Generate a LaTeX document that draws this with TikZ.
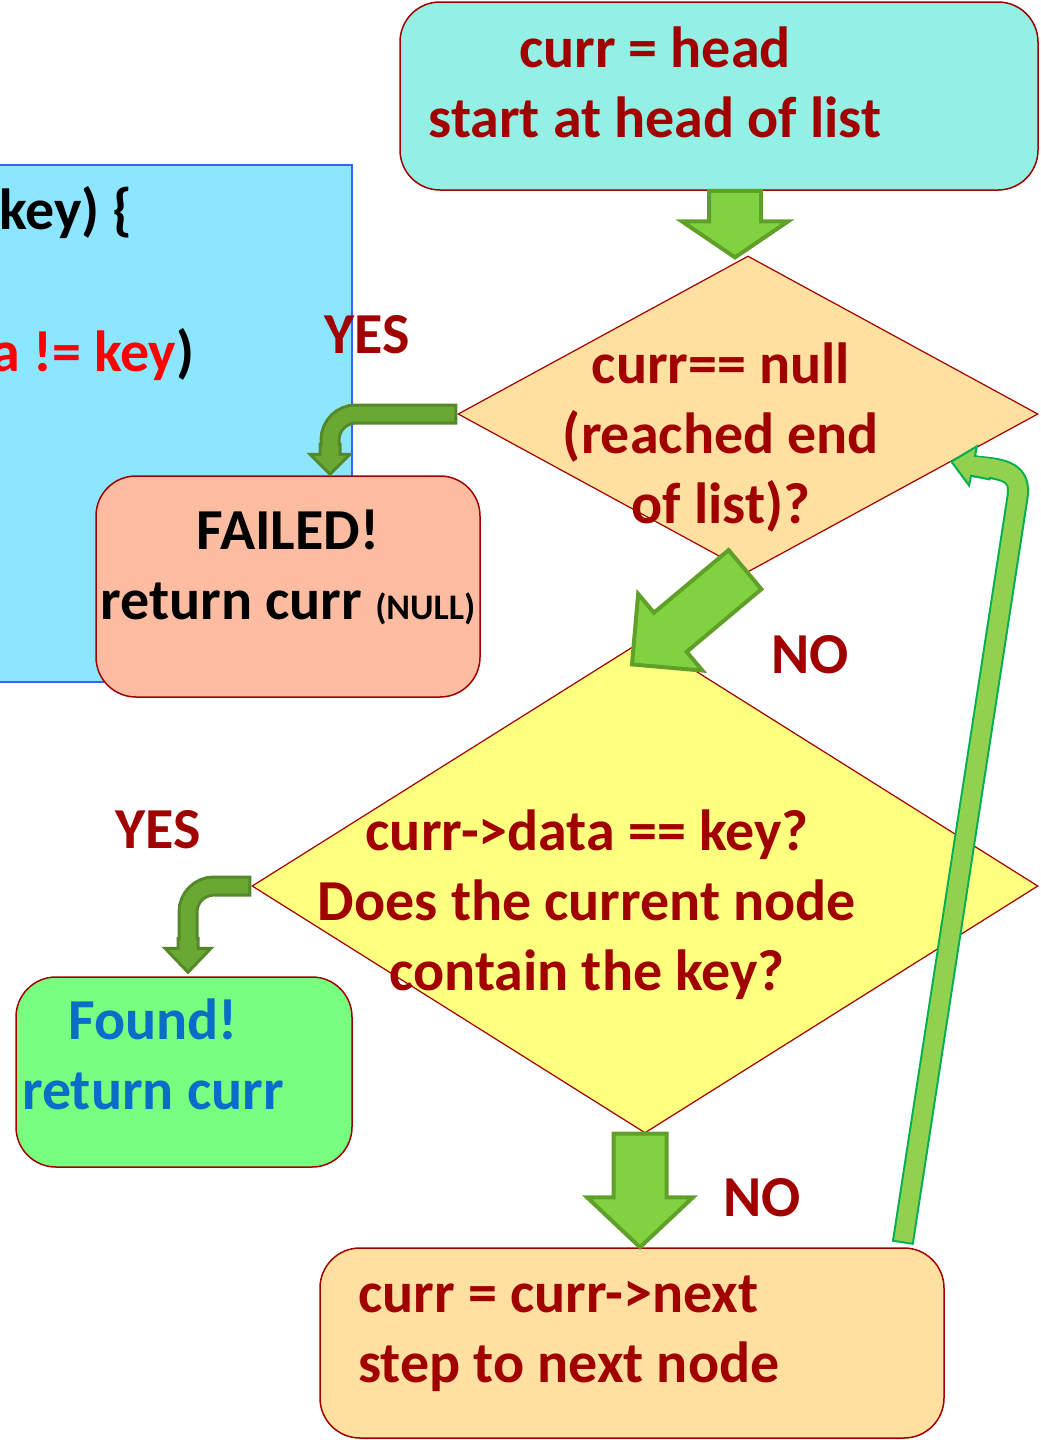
\documentclass[tikz,border=0pt]{standalone}
\usepackage{fontspec}
\setmainfont{Carlito}
\usetikzlibrary{shapes.geometric,calc}

\definecolor{darkred}{RGB}{160,0,0}
\definecolor{codefill}{RGB}{140,230,255}
\definecolor{codeline}{RGB}{50,100,255}
\definecolor{headfill}{RGB}{148,240,228}
\definecolor{nullfill}{RGB}{255,224,160}
\definecolor{failfill}{RGB}{251,188,161}
\definecolor{keyfill}{RGB}{255,255,128}
\definecolor{foundfill}{RGB}{120,255,128}
\definecolor{foundblue}{RGB}{10,110,200}
\definecolor{arrowfill}{RGB}{128,210,64}
\definecolor{arrowline}{RGB}{96,160,40}
\definecolor{yesfill}{RGB}{106,168,52}
\definecolor{yesline}{RGB}{84,136,40}
\definecolor{loopfill}{RGB}{146,208,80}
\definecolor{loopline}{RGB}{0,176,80}

\tikzset{
    txt/.style={font=\bfseries\fontsize{29}{35}\selectfont, text=darkred, align=center, inner sep=0pt},
    box/.style={draw=darkred, line width=0.75pt, rounded corners=20pt, inner sep=0pt},
    decision/.style={diamond, draw=darkred, line width=0.6pt, inner sep=0pt},
    arrowbody/.style={fill=arrowfill, draw=arrowline, line width=2pt},
    yesbody/.style={fill=yesfill, draw=yesline, line width=1.5pt},
    loopbody/.style={fill=loopfill, draw=loopline, line width=1pt},
}

% block arrow: style, from, to, shaft half width, head half width, head length
\newcommand{\blockarrow}[6]{%
    \coordinate (ba-s) at (#2);
    \coordinate (ba-t) at (#3);
    \coordinate (ba-h) at ($(ba-t)!#6!(ba-s)$);
    \filldraw[#1] ($(ba-s)!#4!90:(ba-t)$) -- ($(ba-h)!#4!90:(ba-t)$) -- ($(ba-h)!#5!90:(ba-t)$)
        -- (ba-t) -- ($(ba-h)!#5!-90:(ba-t)$) -- ($(ba-h)!#4!-90:(ba-t)$) -- ($(ba-s)!#4!-90:(ba-t)$) -- cycle;
}

\begin{document}
\begin{tikzpicture}[x=0.5pt,y=-0.5pt]
    \useasboundingbox (0,0) rectangle (1040,1440);
    \clip (0,0) rectangle (1040,1440);

    % code panel behind, cut by the page edge
    \draw[fill=codefill, draw=codeline, line width=0.75pt] (-10,165) rectangle (352,682);
    \node[txt, text=black, anchor=west] (code1) at (-1,213) {key) \{};
    \node[txt, text=red, anchor=west] (code2) at (-9,355) {a != key\textcolor{black}{)}};

    % boxes and decisions
    \node[box, fill=headfill, minimum width=319pt, minimum height=94pt] (start) at (719,96) {};
    \node[txt] (startt) at (655,82) {curr = head\\start at head of list};

    \node[decision, fill=nullfill, minimum width=290pt, minimum height=158pt] (d1) at (748,414) {};
    \node[txt] (d1t) at (721,438) {curr== null\\(reached end\\of list)?};

    \node[box, fill=failfill, minimum width=192pt, minimum height=110.5pt] (fail) at (288,586.5) {};
    \node[txt, text=black] (failt) at (288,567) {FAILED!\\return curr {\fontsize{18}{20}\selectfont (NULL)}};

    \node[decision, fill=keyfill, minimum width=393pt, minimum height=247pt] (d2) at (645,886) {};
    \node[txt] (d2t) at (587,905) {curr->data == key?\\Does the current node\\contain the key?};

    \node[box, fill=foundfill, minimum width=168pt, minimum height=95pt] (found) at (184,1072) {};
    \node[txt, text=foundblue] (foundt) at (153,1054) {Found!\\return curr};

    \node[box, fill=nullfill, minimum width=312pt, minimum height=95pt] (next) at (632,1343) {};
    \node[txt, anchor=west, align=left] (nextt) at (358,1334) {curr = curr->next\\step to next node};

    % answers
    \node[txt] (yes1) at (367,335) {YES};
    \node[txt] (no1) at (810,655) {NO};
    \node[txt] (yes2) at (158,830) {YES};
    \node[txt] (no2) at (762,1198) {NO};

    % straight arrows
    \blockarrow{arrowbody}{$(start.south)+(16,0)$}{$(d1.north)+(-13,2)$}{13pt}{26.5pt}{18pt}
    \blockarrow{arrowbody}{$(d1.south)+(-3,-3)$}{$(d2.north)+(-13,26)$}{12.75pt}{25pt}{25pt}
    \blockarrow{arrowbody}{$(d2.south)+(-5,0)$}{$(d2.south |- next.north)+(-5,0)$}{13.25pt}{26.5pt}{25pt}

    % YES branches
    \coordinate (f1) at ($(fail.north)+(42,-1)$);
    \draw[yesline, line width=10.5pt, rounded corners=13pt] (d1.west) -| ($(f1)+(0,-21)$);
    \blockarrow{yesbody}{$(f1)+(0,-30)$}{f1}{5pt}{10pt}{10pt}
    \draw[yesfill, line width=7.5pt, rounded corners=13pt, shorten <=1.5pt] (d1.west) -| ($(f1)+(0,-17)$);

    \coordinate (f2) at ($(found.north)+(4,-4)$);
    \draw[yesline, line width=10.5pt, rounded corners=13pt] (d2.west) -| ($(f2)+(0,-25)$);
    \blockarrow{yesbody}{$(f2)+(0,-34)$}{f2}{5pt}{11.5pt}{12pt}
    \draw[yesfill, line width=7.5pt, rounded corners=13pt, shorten <=1.5pt] (d2.west) -| ($(f2)+(0,-21)$);

    % loop back to the first test
    \coordinate (l0) at ($(next.north east)+(-42,-4)$);
    \coordinate (l1) at ($(d1.east)!0.3!(d1.south)$);
    \draw[loopline, line width=11pt] (l0) -- ($(l1)+(66,36)$)
        .. controls ($(l1)+(70,11)$) and ($(l1)+(54,7)$) .. ($(l1)+(23,5)$);
    \blockarrow{loopbody}{$(l1)+(40,8)$}{l1}{5pt}{10pt}{11pt}
    \draw[loopfill, line width=9pt, shorten <=1pt] (l0) -- ($(l1)+(66,36)$)
        .. controls ($(l1)+(70,11)$) and ($(l1)+(54,7)$) .. ($(l1)+(20,4)$);
\end{tikzpicture}
\end{document}
